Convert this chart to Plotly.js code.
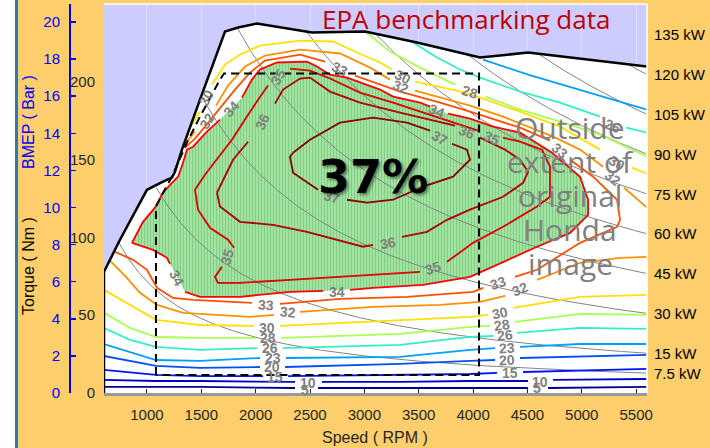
<!DOCTYPE html>
<html><head><meta charset="utf-8">
<script src="https://cdn.plot.ly/plotly-3.0.1.min.js"></script>
<style>
html,body{margin:0;padding:0;background:#fff;}
#wrap{position:relative;width:710px;height:448px;}
#chart{width:710px;height:448px;}
#strip{position:absolute;left:0;top:0;width:15px;height:448px;background:#ffffff;z-index:5;}
#edge{position:absolute;left:15px;top:0;width:2.5px;height:448px;background:#2a7ab8;z-index:6;}
</style>
</head><body><div id="wrap"><div id="chart"></div><div id="strip"></div><div id="edge"></div></div>
<script>
// ---------- data ----------
const speedTicks = [1000,1500,2000,2500,3000,3500,4000,4500,5000,5500];
const torqueTicks = [0,50,100,150,200,250];
const bmepTicks = [0,2,4,6,8,10,12,14,16,18,20];
const displacementL = 1.498;
const powerKW = [135,120,105,90,75,60,45,30,15,7.5];

const maxTorqueRpm = [605,605,752,1000,1148,1230,1258,1322,1488,1718,1838,2012,2518,3006,3484,4064,4506,5600];
const maxTorqueNm  = [0,77.9,98.5,130.6,135.8,138.4,142.2,156.4,188.5,232.3,234.9,237.5,231.7,232.3,225.2,215.6,218.8,209.8];

const boxRpm = [1083,1083,1138,1230,1368,1488,1672,1709,4055,4055,1083];
const boxNm  = [11.6,119.8,127.4,139.0,160.9,177.6,201.4,205.3,205.3,11.6,11.6];

const c5Rpm = [605,1488,2362,null,2574,3972,4506,null,4690,5600];
const c5Nm  = [3.9,3.9,3.2,null,3.2,3.2,3.2,null,3.2,3.9];
const c10Rpm = [605,1083,1488,2362,null,2610,3328,3972,4506,null,4736,5600];
const c10Nm  = [8.4,7.7,7.7,7.1,null,7.1,7.1,7.7,7.7,null,8.4,9.0];
const c15Rpm = [605,1083,1488,2068,null,2298,3328,3972,4220,null,4460,5600];
const c15Nm  = [14.8,11.6,10.9,10.9,null,10.9,11.6,12.2,12.9,null,13.5,15.5];
const c20Rpm = [605,1083,1488,2040,null,2270,3328,3972,4202,null,4432,5600];
const c20Nm  = [23.8,17.4,16.1,16.7,null,16.7,18.7,20.6,21.2,null,22.5,24.5];
const c23Rpm = [605,844,1083,1488,2040,null,2279,3328,3972,4202,null,4432,4984,5600];
const c23Nm  = [31.5,26.4,21.2,20.6,22.5,null,22.5,23.2,27.7,28.9,null,29.6,31.5,31.5];
const c23UpRpm = [4092,4506,5600];
const c23UpNm  = [214.3,204.6,182.1];
const c26Rpm = [605,844,1083,1488,2012,null,2252,3328,3972,4184,null,4404,4984,5600];
const c26Nm  = [41.8,34.1,29.6,27.7,28.9,null,28.9,30.9,36.0,36.7,null,38.6,41.8,41.2];
const c26UpRpm = [3448,3668,3880,4064,4432,4800,5168,null,5407,5600];
const c26UpNm  = [225.2,215.6,207.9,202.7,193.7,186.6,177.6,null,170.5,167.3];
const c28Rpm = [605,844,1083,1488,1994,null,2233,3328,3972,4156,null,4386,4984,5600];
const c28Nm  = [51.5,41.8,36.0,35.4,35.4,null,35.4,38.0,42.5,43.1,null,45.7,50.8,50.2];
const c28UpRpm = [3006,3236,3512,3834,null,4110,4432,4800,5168,5600];
const c28UpNm  = [232.3,219.4,209.1,198.2,null,190.5,182.1,174.4,166.0,151.9];
const c30Rpm = [605,844,1083,1488,1985,null,2224,3328,3972,4138,null,4368,4984,5600];
const c30Nm  = [66.3,56.6,47.0,43.7,43.1,null,43.1,47.0,48.9,50.2,null,54.7,61.8,63.1];
const c30UpRpm = [1414,1488,null,1598,1718,1856,2040,2408,2712,2932,3144,3254,null,3466,3852,4064,4432,4800,5168,null,5462,5600];
const c30UpNm  = [172.5,180.8,null,198.2,211.1,217.5,223.3,226.5,225.9,218.8,212.4,207.9,null,200.1,194.3,189.8,180.8,171.2,156.4,null,144.8,140.9];
const c32Rpm = [660,816,936,1092,1332,1948,2169,null,2408,3080,3696,4064,4294,null,4588,4984,5352,5600];
const c32Nm  = [85.0,74.0,64.4,56.6,51.5,48.9,50.2,null,52.1,55.3,56.6,58.6,62.4,null,72.7,83.7,86.9,87.5];
const c32UpRpm = [1359,1442,null,1635,1746,1902,2086,2408,2776,3052,3236,null,3466,3788,3972,4276,4736,4984,5196,null,5389,5600];
const c32UpNm  = [160.9,168.0,null,184.7,197.6,209.8,216.9,220.7,218.2,209.1,201.4,null,194.3,188.5,184.7,177.6,164.8,156.4,145.4,null,131.9,119.1];
const c33Rpm = [1350,1442,1534,1672,1810,1948,2086,2408,2638,null,2914,3328,3696,3972,4432,4708,null,4892,5104,5324,5352,5324,4984,4588,4386,null,4092,4000,3392,2776,2224,null,1966,1424,1240,1092,1000,872,706];
const c33Nm  = [157.7,163.5,171.2,183.4,195.0,205.9,213.6,217.5,213.0,null,204.0,193.7,186.6,180.8,170.5,162.2,null,149.9,139.0,124.2,111.3,106.8,96.5,79.2,74.6,null,67.6,65.0,61.8,60.5,57.3,null,57.9,59.8,61.1,67.6,79.2,85.6,90.7];
const c34Rpm = [862,964,1074,1148,1230,1286,1332,1368,1424,1552,1672,null,1874,1966,2040,2196,2472,2564,2684,2840,3144,3264,3512,3604,null,3770,3972,4184,4432,4726,4984,5058,5058,4892,4588,3972,3540,3080,2868,null,2620,2316,1856,1488,1350,null,1212,1184,1056,862];
const c34Nm  = [96.5,110.0,119.1,128.7,135.1,139.0,148.0,156.4,158.3,168.0,175.7,null,189.8,201.4,207.9,212.4,213.0,209.8,204.6,202.7,195.0,190.5,186.6,184.0,null,179.5,176.3,171.2,167.3,154.4,139.0,124.2,114.5,102.9,94.0,74.6,69.5,67.6,66.3,null,65.6,65.0,61.8,61.8,65.0,null,83.0,86.9,92.0,96.5];
const c35Rpm = [1690,1626,1654,1856,2316,3080,3512,null,3760,4000,4276,4588,4708,4708,4634,4432,4276,null,4046,3880,3724,3512,3264,2960,2684,2500,2316,null,2114,2022,1902,1782,1654,1534,1442,1470,1580,1746,1801];
const c35Nm  = [81.1,74.6,70.8,70.8,72.7,75.9,77.9,null,84.3,96.5,106.8,119.8,126.1,145.4,156.4,161.5,164.1,null,168.6,172.5,175.7,180.8,186.6,193.1,202.1,207.2,208.5,null,197.6,188.5,175.7,162.8,151.2,140.3,130.6,117.8,106.2,98.5,93.3];
const c36Rpm = [1644,1718,1792,1930,null,2178,2252,2408,2500,2684,2960,3328,3604,3834,null,4064,4294,4432,4506,4460,4276,3972,3760,3576,3346,null,3080,2988,2472,2160,1856,1792,1672,1644];
const c36Nm  = [128.7,139.0,149.9,161.5,null,186.0,195.0,202.1,202.7,193.7,186.6,180.2,175.7,171.8,null,164.1,156.4,149.9,142.2,135.1,126.1,117.8,111.3,103.6,100.4,null,95.2,94.0,103.6,108.1,110.0,113.3,119.8,128.7];
const c37Rpm = [2344,2500,2776,3080,3392,3604,null,3806,3944,3972,3816,3540,3264,3024,2840,null,2574,2344,2316,2344];
const c37Nm  = [154.4,162.8,173.7,177.0,173.7,168.6,null,160.2,156.4,149.9,139.0,132.6,124.2,122.3,124.2,null,130.6,141.6,151.9,154.4];

const labelText = ['5','5','10','10','15','15','20','20','23','23','26','26','26','28','28','28','30','30','30','30','30','32','32','32','32','32','33','33','33','33','34','34','34','34','35','35','35','35','36','36','36','37','37'];
const labelRpm  = [2454,4588,2482,4616,2178,4340,2150,4312,2160,4312,2132,4294,5288,2114,4266,3972,2104,4248,1543,3356,5324,2298,4432,1552,3337,5288,2095,4230,2776,4800,1276,2748,1773,3668,1736,3632,4174,2206,2058,3944,3218,3696,2702];
const labelNm   = [1.9,3.2,6.4,7.1,10.3,12.9,16.7,21.2,22.5,28.9,28.9,37.3,171.8,35.4,43.7,193.7,41.8,51.5,189.8,203.3,148.0,52.1,66.9,175.0,196.9,138.4,56.6,70.8,208.5,155.7,74.0,65.0,182.8,181.5,87.5,80.4,164.1,203.3,174.4,167.9,96.5,164.1,126.1];
const labelAngle = [0,0,0,0,0,0,0,-3,0,-3,0,-5,22,0,-8,18,0,-12,-62,25,30,5,-22,-58,22,38,3,-18,25,40,62,0,-48,22,-72,-18,25,-58,-65,22,-12,28,15];

const outsideLines = ['Outside','extent of','original','Honda','image'];

// ---------- geometry / styling ----------
const W=710,H=448,ML=20,MR=63,MT=4,MB=55;
const PW=W-ML-MR, PH=H-MT-MB;
const px2x = X => (X-ML)/PW;
const px2y = Y => (H-MB-Y)/PH;
const domainStart = px2x(104);
const nmPerBar = displacementL*100/(4*Math.PI);

const levelColor = {5:'#00008c',10:'#0000c8',15:'#0014ff',20:'#0050ff',23:'#00a0ff',26:'#30f0c8',28:'#a8ff50',30:'#ffe000',32:'#ff9000',33:'#ff5000',34:'#ff0000',35:'#dc0000',36:'#b00000',37:'#880000'};
const contours = [
  [5,c5Rpm,c5Nm],[10,c10Rpm,c10Nm],[15,c15Rpm,c15Nm],[20,c20Rpm,c20Nm],
  [23,c23Rpm,c23Nm],[23,c23UpRpm,c23UpNm],[26,c26Rpm,c26Nm],[26,c26UpRpm,c26UpNm],
  [28,c28Rpm,c28Nm],[28,c28UpRpm,c28UpNm],[30,c30Rpm,c30Nm],[30,c30UpRpm,c30UpNm],
  [32,c32Rpm,c32Nm],[32,c32UpRpm,c32UpNm],[33,c33Rpm,c33Nm],[34,c34Rpm,c34Nm],
  [35,c35Rpm,c35Nm],[36,c36Rpm,c36Nm],[37,c37Rpm,c37Nm]
];

function maxAt(r){
  for(let i=2;i<maxTorqueRpm.length;i++){
    if(r<=maxTorqueRpm[i]){
      const r0=maxTorqueRpm[i-1], r1=maxTorqueRpm[i];
      const t=(r-r0)/(r1-r0);
      return maxTorqueNm[i-1]+t*(maxTorqueNm[i]-maxTorqueNm[i-1]);
    }
  }
  return maxTorqueNm[maxTorqueNm.length-1];
}
const nmAt = (kw,r) => kw*60000/(2*Math.PI*r);

const traces = [];
traces.push({x:maxTorqueRpm,y:maxTorqueNm,mode:'lines',fill:'tozeroy',fillcolor:'#ffffff',line:{width:0},hoverinfo:'skip'});
const gx=[],gy=[];
c34Rpm.forEach((v,i)=>{ if(v!==null){gx.push(v);gy.push(c34Nm[i]);} });
traces.push({x:gx,y:gy,mode:'lines',fill:'toself',fillcolor:'#9ade9a',
  fillpattern:{shape:'|',fgcolor:'#80cf80',bgcolor:'#a2e2a2',size:3,solidity:0.35},
  line:{width:0},hoverinfo:'skip'});
powerKW.forEach(p=>{
  const xs=[],ys=[];
  for(let r=605;r<=5600;r+=10){
    const t=nmAt(p,r);
    xs.push(r); ys.push(t<=maxAt(r)?t:null);
  }
  traces.push({x:xs,y:ys,mode:'lines',line:{color:'#848484',width:1},hoverinfo:'skip',connectgaps:false});
});
contours.forEach(([lvl,xs,ys])=>{
  traces.push({x:xs,y:ys,mode:'lines',line:{color:levelColor[lvl],width:1.8},connectgaps:false,hoverinfo:'skip'});
});
traces.push({x:boxRpm,y:boxNm,mode:'lines',line:{color:'#000',width:2,dash:'8px,5px'},hoverinfo:'skip'});
traces.push({x:maxTorqueRpm,y:maxTorqueNm,mode:'lines',line:{color:'#000',width:2.5},hoverinfo:'skip'});
traces.push({x:[605],y:[0],xaxis:'x',yaxis:'y2',mode:'markers',marker:{opacity:0},hoverinfo:'skip'});

const ann = [];
labelText.forEach((t,i)=>{
  ann.push({x:labelRpm[i],y:labelNm[i],text:'<b>'+t+'</b>',textangle:labelAngle[i],showarrow:false,
    xanchor:'center',yanchor:'middle',
    font:{family:'Liberation Sans, Arial, sans-serif',size:14,color:'#808080'}});
});
powerKW.forEach(p=>{
  ann.push({x:5600,y:nmAt(p,5600),text:p+' kW',xanchor:'left',yanchor:'middle',xshift:5,showarrow:false,
    font:{family:'Liberation Sans, Arial, sans-serif',size:15,color:'#000'}});
});
outsideLines.forEach((t,i)=>{
  ann.push({x:4892,y:126.8,yshift:(2-i)*34,text:t,showarrow:false,xanchor:'center',yanchor:'middle',
    font:{family:'Open Sans, sans-serif',size:30,color:'#808080'}});
});
ann.push({x:3080,y:139,text:'<b>37%</b>',showarrow:false,xanchor:'center',yanchor:'middle',
  font:{family:'DejaVu Sans, sans-serif',size:46,color:'#000',shadow:'2px 2px 3px rgba(0,0,0,0.45)'}});
ann.push({xref:'paper',yref:'paper',x:px2x(466),y:px2y(19),text:'EPA benchmarking data',showarrow:false,
  xanchor:'center',yanchor:'middle',
  font:{family:'Open Sans, sans-serif',size:26,color:'#c00000'}});
ann.push({xref:'paper',yref:'paper',x:px2x(375),y:px2y(437),text:'Speed ( RPM )',showarrow:false,
  xanchor:'center',yanchor:'middle',
  font:{family:'Liberation Sans, Arial, sans-serif',size:16,color:'#262626'}});
ann.push({xref:'paper',yref:'paper',x:px2x(28),y:px2y(266),text:'Torque ( Nm )',textangle:-90,showarrow:false,
  xanchor:'center',yanchor:'middle',
  font:{family:'Liberation Sans, Arial, sans-serif',size:16,color:'#000'}});
ann.push({xref:'paper',yref:'paper',x:px2x(28),y:px2y(122),text:'BMEP ( Bar )',textangle:-90,showarrow:false,
  xanchor:'center',yanchor:'middle',
  font:{family:'Liberation Sans, Arial, sans-serif',size:16,color:'#0000ff'}});

const shapes = [
  {type:'line',xref:'paper',yref:'paper',x0:domainStart,x1:1,y0:1,y1:1,line:{color:'#ffffff',width:1.5}},
  {type:'line',xref:'paper',yref:'paper',x0:1,x1:1,y0:0,y1:1,line:{color:'#ffffff',width:1.5}}
];

const layout = {
  width:W,height:H,margin:{l:ML,r:MR,t:MT,b:MB,pad:0},
  paper_bgcolor:'#fdcf6c',plot_bgcolor:'#ccccff',showlegend:false,
  font:{family:'Liberation Sans, Arial, sans-serif',color:'#262626',size:15},
  xaxis:{domain:[domainStart,1],range:[605,5600],tickvals:speedTicks,ticks:'inside',ticklen:4,tickcolor:'#262626',
    showgrid:true,gridcolor:'#dedeff',gridwidth:1,showline:true,linecolor:'#999999',linewidth:3,zeroline:false,
    tickfont:{size:15,color:'#262626'},ticklabelstandoff:6},
  yaxis:{range:[0,250],tickvals:torqueTicks,showgrid:false,zeroline:false,showline:false,ticks:'',
    tickfont:{size:15,color:'#262626'},ticklabelstandoff:8},
  yaxis2:{overlaying:'y',anchor:'free',position:px2x(69),side:'left',range:[0,250/nmPerBar],tickvals:bmepTicks,
    ticks:'inside',ticklen:5,tickcolor:'#0000ff',tickwidth:1.5,showline:true,linecolor:'#0000ff',linewidth:1.5,
    showgrid:false,zeroline:false,tickfont:{size:15,color:'#0000ff'},ticklabelstandoff:6},
  annotations:ann, shapes:shapes
};
Plotly.newPlot('chart',traces,layout,{staticPlot:true,displayModeBar:false});
</script></body></html>
